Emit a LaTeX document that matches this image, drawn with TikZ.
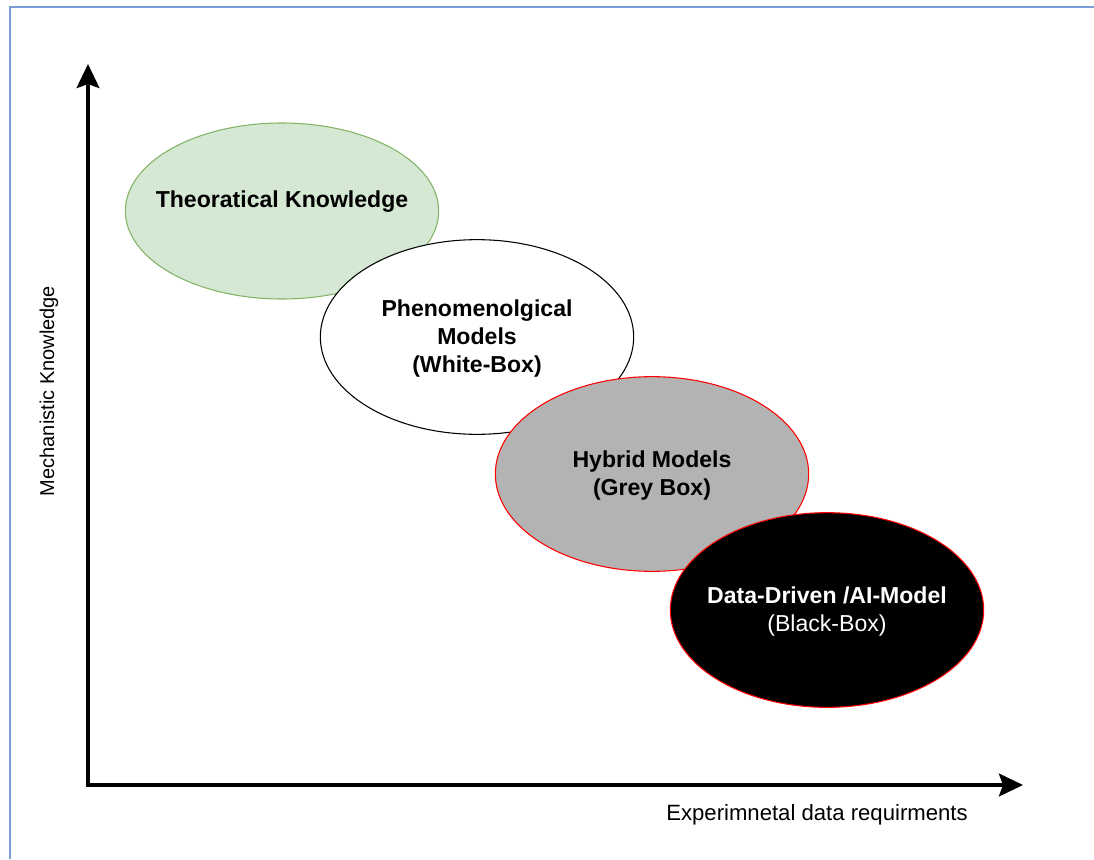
\documentclass[tikz,border=0pt]{standalone}
\usepackage{fontspec}
\setmainfont{Liberation Sans}
\usetikzlibrary{arrows.meta,positioning,shapes.geometric}
\definecolor{frame}{HTML}{7B9FD4}
\definecolor{theory}{HTML}{D5E8D4}
\definecolor{theoryline}{HTML}{82B366}
\definecolor{grey}{HTML}{B3B3B3}
\definecolor{edge}{HTML}{FF0000}
\definecolor{ink}{HTML}{000000}
% text that does not widen the ellipse (optional lift)
\newcommand{\blobtext}[2][0pt]{\raisebox{\dimexpr#1-6pt\relax}[0pt][0pt]{\makebox[0pt][c]{\begin{tabular}{@{}c@{}}#2\end{tabular}}}}
\tikzset{
  >={Stealth[length=18pt,width=17pt,inset=3pt]},
  every node/.style={font=\fontsize{14}{17}\selectfont,text=ink},
  blob/.style={ellipse,draw=ink,thick,fill=white,minimum width=235pt,minimum height=146pt,inner sep=0pt,font=\fontsize{17.3}{21}\selectfont\bfseries},
  theorybox/.style={blob,fill=theory,draw=theoryline,minimum height=132pt},
  hybridbox/.style={blob,fill=grey,draw=edge},
  aibox/.style={blob,fill=ink,draw=edge,text=white},
  axis/.style={line width=3pt,draw=ink},
}
\begin{document}
\begin{tikzpicture}[x=0.75pt,y=-0.75pt]
\useasboundingbox (0,0) rectangle (1094,859);
\draw[frame,line width=1.5pt] (10,859) -- (10,7) -- (1094,7);

% axes
\coordinate (origin) at (88,785);
\coordinate (ytip) at (88,64);
\coordinate (xtip) at (1023,785);
\draw[axis,<->,miter limit=4] (ytip) -- (origin) -- (xtip);
\node[rotate=90,font=\fontsize{15}{18}\selectfont] (ylab) at (49,391) {Mechanistic Knowledge};
\node[font=\fontsize{16.6}{20}\selectfont] (xlab) at (817,815) {Experimnetal data requirments};

% model classes
\node[theorybox] (theory) at (282,211) {\blobtext[8.25pt]{Theoratical Knowledge}};
\node[blob] (white) at (477,337) {\blobtext{Phenomenolgical\\Models\\(White-Box)}};
\node[hybridbox] (hybrid) at (652,474) {\blobtext{Hybrid Models\\(Grey Box)}};
\node[aibox] (ai) at (827,610) {\blobtext{Data-Driven /AI-Model\\\mdseries(Black-Box)}};

\end{tikzpicture}
\end{document}
